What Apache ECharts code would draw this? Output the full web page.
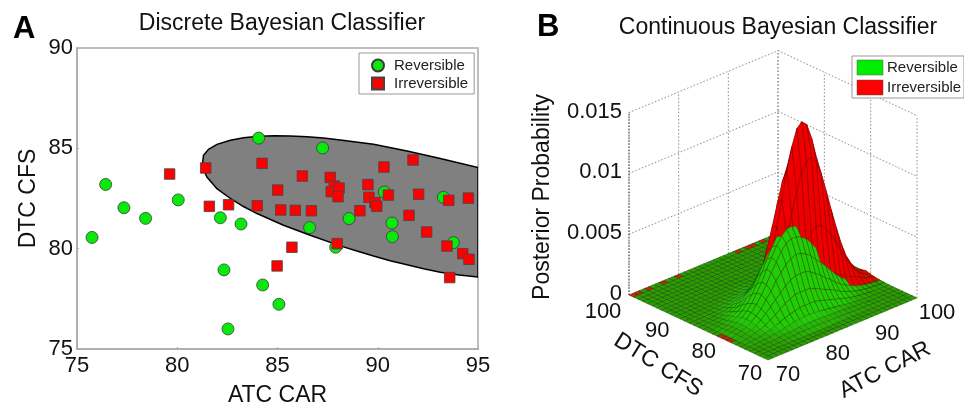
<!DOCTYPE html>
<html><head><meta charset="utf-8">
<style>html,body{margin:0;padding:0;background:#fff}#c{width:964px;height:403px}</style>
<script src="https://cdn.jsdelivr.net/npm/echarts@6/dist/echarts.min.js"></script>
</head><body><div id="c"></div>
<script>
var seriesNames = ['Reversible', 'Irreversible'];
var reversible = [[75.75,80.56],[76.43,83.2],[77.34,82.04],[78.42,81.51],[80.05,82.43],[82.15,81.54],[83.18,81.23],[82.33,78.94],[84.26,78.19],[85.07,77.23],[82.53,76.0],[84.06,85.51],[87.25,85.02],[86.6,81.05],[88.57,81.5],[87.9,80.07],[90.33,82.82],[90.71,81.28],[90.73,80.6],[93.27,82.56],[93.77,80.3]];
var irreversible = [[79.62,83.72],[81.42,84.02],[81.6,82.11],[82.56,82.19],[83.99,82.14],[84.23,84.25],[85.01,82.92],[85.16,81.93],[85.89,81.91],[86.69,81.89],[86.24,83.62],[85.72,80.07],[84.98,79.14],[87.63,83.55],[87.83,83.12],[87.68,82.84],[88.07,83.02],[88.02,82.59],[87.98,80.25],[89.11,81.89],[89.51,83.19],[89.56,82.56],[89.86,82.29],[89.95,82.11],[90.31,84.07],[90.53,82.67],[91.76,84.42],[92.04,82.71],[91.56,81.66],[92.44,80.83],[93.54,82.41],[94.52,82.52],[93.45,80.13],[94.24,79.75],[94.55,79.47],[93.59,78.56]];
var boundary = [[81.26,84.24],[81.31,84.65],[81.56,84.95],[81.98,85.2],[82.65,85.4],[83.31,85.53],[84.06,85.6],[84.85,85.63],[85.64,85.62],[86.47,85.58],[87.3,85.51],[88.13,85.42],[89.79,85.2],[91.46,84.87],[93.12,84.49],[95,84.04],[95,78.59],[94.06,78.69],[93.12,78.83],[92.29,79.0],[91.46,79.2],[90.62,79.4],[89.79,79.63],[88.96,79.88],[88.13,80.14],[86.63,80.67],[85.3,81.17],[83.98,81.75],[83.3,82.1],[82.65,82.5],[81.98,82.99],[81.48,83.57],[81.26,84.07]];
var xTicks3d = [70,80,90,100];
var yTicks3d = [70,80,90,100];
var zTicks3d = [0,0.005,0.01,0.015];
var zUnit = 1e-4;
// posterior surfaces in units of zUnit; rows by DTC CFS, columns by ATC CAR
var greenX0 = 72, greenY0 = 73;
var greenZ = [
[.1,.2,.3,.4,.6,.8,1,1.2,1.4,1.6,1.6,1.6,1.5,1.4,1.3,1.2,1,.9,.7,.6,.5,.4,.3,.2,.1,.1,0,0,0],
[.2,.4,.6,.8,1.2,1.6,2,2.4,2.8,3,3.2,3.2,3.1,2.9,2.7,2.4,2.1,1.8,1.5,1.2,.9,.7,.5,.3,.2,.1,.1,0,0],
[.4,.7,1.1,1.6,2.3,3,3.9,4.7,5.4,5.9,6.3,6.3,6.1,5.7,5.2,4.6,3.9,3.3,2.6,2,1.5,1.1,.8,.5,.4,.2,.1,.1,0],
[.7,1.2,1.8,2.7,3.9,5.3,6.8,8.4,9.9,11,12,12,12,12,11,9.5,8.2,6.9,5.6,4.4,3.3,2.5,1.8,1.2,.8,.5,.3,.1,.1],
[1.1,1.7,2.8,4.2,6.1,8.4,11,14,17,19,21,21,21,21,19,17,15,13,11,8.4,6.5,4.8,3.5,2.4,1.7,1.1,.7,.4,.3],
[1.3,2.2,3.6,5.6,8.3,12,16,20,24,28,31,33,33,33,31,28,25,21,18,14,11,8.4,6.2,4.4,3,2,1.3,.8,.5],
[1.5,2.6,4.2,6.7,10,14,20,25,32,37,42,45,47,46,44,41,36,32,27,22,17,13,9.7,6.9,4.8,3.3,2.1,1.4,.8],
[1.5,2.6,4.4,7.1,11,16,22,29,37,44,51,56,58,58,56,53,48,42,36,29,23,18,14,9.9,7,4.7,3.1,2,1.2],
[1.4,2.5,4.1,6.7,10.4,15,22,29,38,46,54,60,64,65,63,60,55,49,42,35,29,22,17,12,8.9,6.1,4.2,2.7,1.7],
[1,2,3.4,5.6,8.8,13,19,26,34,43,51,58,63,65,64,62,57,51,45,38,31,25,19,14,10,7,4.7,3.1,2],
[.8,1.4,2.5,4.2,6.7,10.3,15,21,28,36,43,50,55,58,58,56,53,48,43,36,30,24,19,14,10,7.2,5,3.3,2.1],
[.5,.9,1.6,2.8,4.5,7,10.5,15,20,26,32,38,43,46,47,46,44,40,36,31,26,21,17,13,9.3,6.7,4.6,3.1,2],
[.3,.5,.8,1.5,2.7,4.3,6.6,9.5,13,17,22,26,30,32,33,33,32,30,27,24,20,16,13,10,7.5,5.4,3.8,2.6,1.7],
[.1,.3,.5,.9,1.5,2.4,3.7,5.4,7.5,10,13,16,18,20,21,21,21,20,18,16,14,11,9.2,7.1,5.4,4,2.8,1.9,1.3],
[0,.1,.2,.3,.7,1.1,1.8,2.6,3.8,5.2,6.7,8.3,9.9,11,12,12,12,12,11,9.6,8.3,7,5.7,4.5,3.4,2.5,1.8,1.3,.9],
[0,0,.1,.1,.3,.5,.8,1.2,1.7,2.4,3.1,4,4.8,5.5,6,6.3,6.3,6.1,5.7,5.1,4.5,3.8,3.2,2.5,2,1.5,1.1,.7,.5],
[0,0,0,0,.1,.2,.3,.5,.7,1,1.3,1.7,2.1,2.5,2.9,3.1,3.2,3.2,3,2.8,2.6,2.3,2,1.6,1.3,1,.7,.5,.4],
[0,0,0,0,0,0,0,.1,.2,.3,.4,.6,.8,1,1.2,1.4,1.6,1.6,1.6,1.5,1.4,1.3,1.1,.9,.8,.6,.5,.4,.3]
];
var redX0 = 78, redY0 = 77;
var redZ = [
[0,0,0,0,0,0,0,0,0,0,.2,.3,.4,.5,.5,.5,.4,.3,.2,0,0,0,0],
[0,0,.1,.2,.3,.6,.9,1.3,1.9,2.5,3.1,3.6,4,4.1,4,3.6,3.2,3,2.6,2.2,1.6,1,.4],
[.2,.4,.8,1,2,4,6,8,11,14,17,19,19,19,18,15,12,10,8,6,4,3,1],
[1,2,4,6,10,16,23,32,40,49,55,59,59,55,48,40,31,23,16,10,6,3.5,2],
[3,6,11,18,28,41,57,74,91,105,113,115,109,98,82,65,49,34,22,14,8,5,3],
[6,11,19,31,47,66,87,109,127,140,144,140,127,109,87,66,47,31,19,11,6,3,2],
[8,14,22,34,49,65,82,98,109,115,113,105,91,74,57,41,28,18,11,6,3,2,1],
[6,10,16,23,31,40,48,55,59,59,55,49,40,32,23,16,10,6,4,2,1,.5,0],
[3,5,7,10,12,15,18,19,19,19,17,14,11,8,6,4,2,1,.8,.4,.2,0,0],
[.9,1.3,1.9,2.5,3.1,3.6,4,4.1,4,3.6,3.1,2.5,1.9,1.3,.9,.6,.3,.2,.1,0,0,0,0]
];
var redSpecks = [[70,99],[71,99],[73,99],[76,99],[79,99],[91,99],[93,99],[94,99],[96,99],[70,78],[70,79],[70,80]];

var FONT = '"Liberation Sans", Arial, sans-serif';
function proj(x, y, z) {
  var u = (x - 70) / 30, v = (y - 70) / 30;
  return [768 + 149 * u - 139 * v, 360 - 62 * u - 65 * v - z / 0.005 * 60.8];
}
function tableZ(t, x0, y0, x, y) {
  var r = t[y - y0];
  if (!r) return 0;
  var val = r[x - x0];
  return val === undefined ? 0 : val;
}
function gz(x, y) { return tableZ(greenZ, greenX0, greenY0, x, y); }
function rz(x, y) { return tableZ(redZ, redX0, redY0, x, y); }
var speckSet = {};
redSpecks.forEach(function (c) { speckSet[c[0] + '_' + c[1]] = 1; });

var facets = [];
for (var d = 58; d >= 0; d--) {
  for (var ix = 70; ix < 100; ix++) {
    var iy = 70 + d - (ix - 70);
    if (iy < 70 || iy >= 100) continue;
    var gs = gz(ix,iy) + gz(ix+1,iy) + gz(ix,iy+1) + gz(ix+1,iy+1);
    var rs = rz(ix,iy) + rz(ix+1,iy) + rz(ix,iy+1) + rz(ix+1,iy+1);
    var speck = speckSet[ix + '_' + iy];
    if (rs === 0) { facets.push([ix, iy, speck ? 1 : 0]); }
    else if (rs > gs) { facets.push([ix, iy, 0]); facets.push([ix, iy, 1]); }
    else { facets.push([ix, iy, 1]); facets.push([ix, iy, 0]); }
  }
}
function mix(a, b, t) {
  return 'rgb(' + a.map(function (v, i) { return Math.round(v + (b[i] - v) * t); }).join(',') + ')';
}
function renderFacet(params, api) {
  var x = api.value(0), y = api.value(1), s = api.value(2);
  var f = s ? rz : gz;
  var a = f(x,y), b = f(x+1,y), c = f(x+1,y+1), e = f(x,y+1);
  var corners = [[x,y,a],[x+1,y,b],[x+1,y+1,c],[x,y+1,e]];
  var pts = corners.map(function (k) {
    return api.coord(proj(k[0], k[1], k[2] * zUnit));
  });
  var g = Math.sqrt(Math.pow((b + c - a - e) / 2, 2) + Math.pow((c + e - a - b) / 2, 2));
  var t = Math.min(1, g / 3);
  var fill = s ? mix([176,50,0],[238,0,0],t) : mix([44,158,0],[32,205,6],t);
  var alpha = (0.8 - 0.25 * t).toFixed(2);
  return {
    type: 'polygon', shape: { points: pts }, silent: true,
    style: { fill: fill, stroke: (s ? 'rgba(70,0,0,' : 'rgba(10,60,0,') + alpha + ')', lineWidth: 0.5 }
  };
}
function line3d(api, a, b, style) {
  var p = api.coord(proj(a[0],a[1],a[2])), q = api.coord(proj(b[0],b[1],b[2]));
  return { type: 'line', shape: { x1:p[0], y1:p[1], x2:q[0], y2:q[1] }, silent: true, style: style };
}
var DOT = { stroke: '#8a8a8a', lineWidth: 1, lineDash: [1.5, 2] };
function renderWalls(params, api) {
  var kids = [];
  var top = zTicks3d[zTicks3d.length - 1];
  zTicks3d.forEach(function (z) {
    kids.push(line3d(api, [70,100,z], [100,100,z], DOT));
    kids.push(line3d(api, [100,100,z], [100,70,z], DOT));
  });
  xTicks3d.forEach(function (x) { kids.push(line3d(api, [x,100,0], [x,100,top], DOT)); });
  yTicks3d.forEach(function (y) { kids.push(line3d(api, [100,y,0], [100,y,top], DOT)); });
  return { type: 'group', children: kids };
}
function txt(api, at, str, size, align, rot) {
  var p = api.coord(at);
  return { type: 'text', x: p[0], y: p[1], rotation: (rot || 0) * Math.PI / 180, silent: true,
    style: { text: str, font: size + 'px ' + FONT, fill: '#111', align: align || 'center', verticalAlign: 'middle' } };
}
function add(p, dx, dy) { return [p[0] + dx, p[1] + dy]; }
function renderLabels(params, api) {
  var kids = [];
  xTicks3d.forEach(function (x) { kids.push(txt(api, add(proj(x,70,0), 20, 15), String(x), 22)); });
  yTicks3d.forEach(function (y) { kids.push(txt(api, add(proj(70,y,0), y === 100 ? -26 : -18, y === 100 ? 17 : 14), String(y), 22)); });
  zTicks3d.forEach(function (z) { kids.push(txt(api, add(proj(70,100,z), -7, -1), String(z), 22, 'right')); });
  kids.push(line3d(api, [70,100,0], [70,100,zTicks3d[3]], { stroke:'#444', lineWidth:1, lineDash:[1.5,1.5] }));
  kids.push(txt(api, [658,365], 'DTC CFS', 23, 'center', -32));
  kids.push(txt(api, [885,370], 'ATC CAR', 23, 'center', 27));
  kids.push(txt(api, [543,197], 'Posterior Probability', 23, 'center', 90));
  return { type: 'group', children: kids };
}
var chart = echarts.init(document.getElementById('c'), null, { renderer: 'canvas' });
chart.setOption({
  animation: false,
  backgroundColor: '#fff',
  title: [
    { text: 'Discrete Bayesian Classifier', left: 277, top: 7, textAlign: 'center', textStyle: { fontFamily: FONT, fontSize: 23, fontWeight: 'normal', color: '#111' } },
    { text: 'Continuous Bayesian Classifier', left: 773, top: 11, textAlign: 'center', textStyle: { fontFamily: FONT, fontSize: 23, fontWeight: 'normal', color: '#111' } },
    { text: 'A', left: 8, top: 9, textStyle: { fontFamily: FONT, fontSize: 31, fontWeight: 'bold', color: '#000' } },
    { text: 'B', left: 532, top: 7, textStyle: { fontFamily: FONT, fontSize: 31, fontWeight: 'bold', color: '#000' } }
  ],
  legend: { data: [{ name: seriesNames[0], icon: 'circle' }, { name: seriesNames[1], icon: 'rect' }], orient: 'vertical', left: 359, top: 53,
    padding: [5, 6, 3, 12], itemGap: 3, itemWidth: 12, itemHeight: 12, backgroundColor: '#fff', borderColor: '#999', borderWidth: 1, selectedMode: false,
    textStyle: { fontFamily: FONT, fontSize: 15, color: '#222', padding: [0, 0, 0, 5] } },
  grid: [
    { left: 77, top: 48, width: 401, height: 301, outerBoundsMode: 'none', show: true, borderColor: '#aaa', borderWidth: 1.5, backgroundColor: 'transparent' },
    { left: 510, top: 0, width: 454, height: 403, outerBoundsMode: 'none', show: false }
  ],
  xAxis: [
    { type: 'value', gridIndex: 0, min: 75, max: 95, interval: 5, name: 'ATC CAR', nameLocation: 'middle', nameGap: 35,
      nameTextStyle: { fontFamily: FONT, fontSize: 23, color: '#111' }, splitLine: { show: false },
      axisLine: { show: true, lineStyle: { color: '#aaa', width: 1.5 } }, axisTick: { inside: true, length: 2, lineStyle: { color: '#aaa' } },
      axisLabel: { fontFamily: FONT, fontSize: 22, color: '#111', margin: 6, hideOverlap: false, showMinLabel: true, showMaxLabel: true } },
    { type: 'value', gridIndex: 1, min: 510, max: 964, show: false }
  ],
  yAxis: [
    { type: 'value', gridIndex: 0, min: 75, max: 90, interval: 5, name: 'DTC CFS', nameLocation: 'middle', nameGap: 37, nameRotate: 90,
      nameTextStyle: { fontFamily: FONT, fontSize: 23, color: '#111' }, splitLine: { show: false },
      axisLine: { show: true, lineStyle: { color: '#aaa', width: 1.5 } }, axisTick: { inside: true, length: 2, lineStyle: { color: '#aaa' } },
      axisLabel: { fontFamily: FONT, fontSize: 22, color: '#111', margin: 4, showMinLabel: true, showMaxLabel: true } },
    { type: 'value', gridIndex: 1, min: 0, max: 403, inverse: true, show: false }
  ],
  series: [
    { type: 'custom', xAxisIndex: 0, yAxisIndex: 0, data: boundary, clip: true, z: 1, silent: true,
      renderItem: function (params, api) {
        if (params.dataIndex !== 0) return null;
        return { type: 'polygon', shape: { points: boundary.map(function (p) { return api.coord(p); }) },
          style: { fill: '#808080', stroke: '#000', lineWidth: 1.5 } };
      } },
    { name: seriesNames[0], type: 'scatter', xAxisIndex: 0, yAxisIndex: 0, data: reversible, symbol: 'circle', symbolSize: 12, z: 3,
      itemStyle: { color: '#0aea0a', borderColor: '#3a3a3a', borderWidth: 0.8, opacity: 1 } },
    { name: seriesNames[1], type: 'scatter', xAxisIndex: 0, yAxisIndex: 0, data: irreversible, symbol: 'rect', symbolSize: 10.5, z: 4,
      itemStyle: { color: '#ff0000', borderColor: '#444', borderWidth: 0.8, opacity: 1 } },
    { type: 'custom', xAxisIndex: 1, yAxisIndex: 1, data: [[0,0]], z: 1, silent: true, clip: false, renderItem: renderWalls },
    { type: 'custom', xAxisIndex: 1, yAxisIndex: 1, data: facets, z: 2, silent: true, clip: false, progressive: 0, encode: { x: 0, y: 1 }, renderItem: renderFacet },
    { type: 'custom', xAxisIndex: 1, yAxisIndex: 1, data: [[0,0]], z: 3, silent: true, clip: false, renderItem: renderLabels }
  ],
  graphic: [
    { type: 'rect', shape: { x: 852, y: 56, width: 112, height: 42 }, style: { fill: '#fff', stroke: '#999', lineWidth: 1 }, z: 10 },
    { type: 'rect', shape: { x: 857, y: 60, width: 26, height: 15 }, style: { fill: '#00ee00', stroke: '#555', lineWidth: 0.5 }, z: 11 },
    { type: 'rect', shape: { x: 857, y: 80, width: 26, height: 15 }, style: { fill: '#ff0000', stroke: '#555', lineWidth: 0.5 }, z: 11 },
    { type: 'text', x: 887, y: 68, style: { text: seriesNames[0], font: '15px ' + FONT, fill: '#222', verticalAlign: 'middle' }, z: 11 },
    { type: 'text', x: 887, y: 88, style: { text: seriesNames[1], font: '15px ' + FONT, fill: '#222', verticalAlign: 'middle' }, z: 11 }
  ]
});
</script></body></html>
